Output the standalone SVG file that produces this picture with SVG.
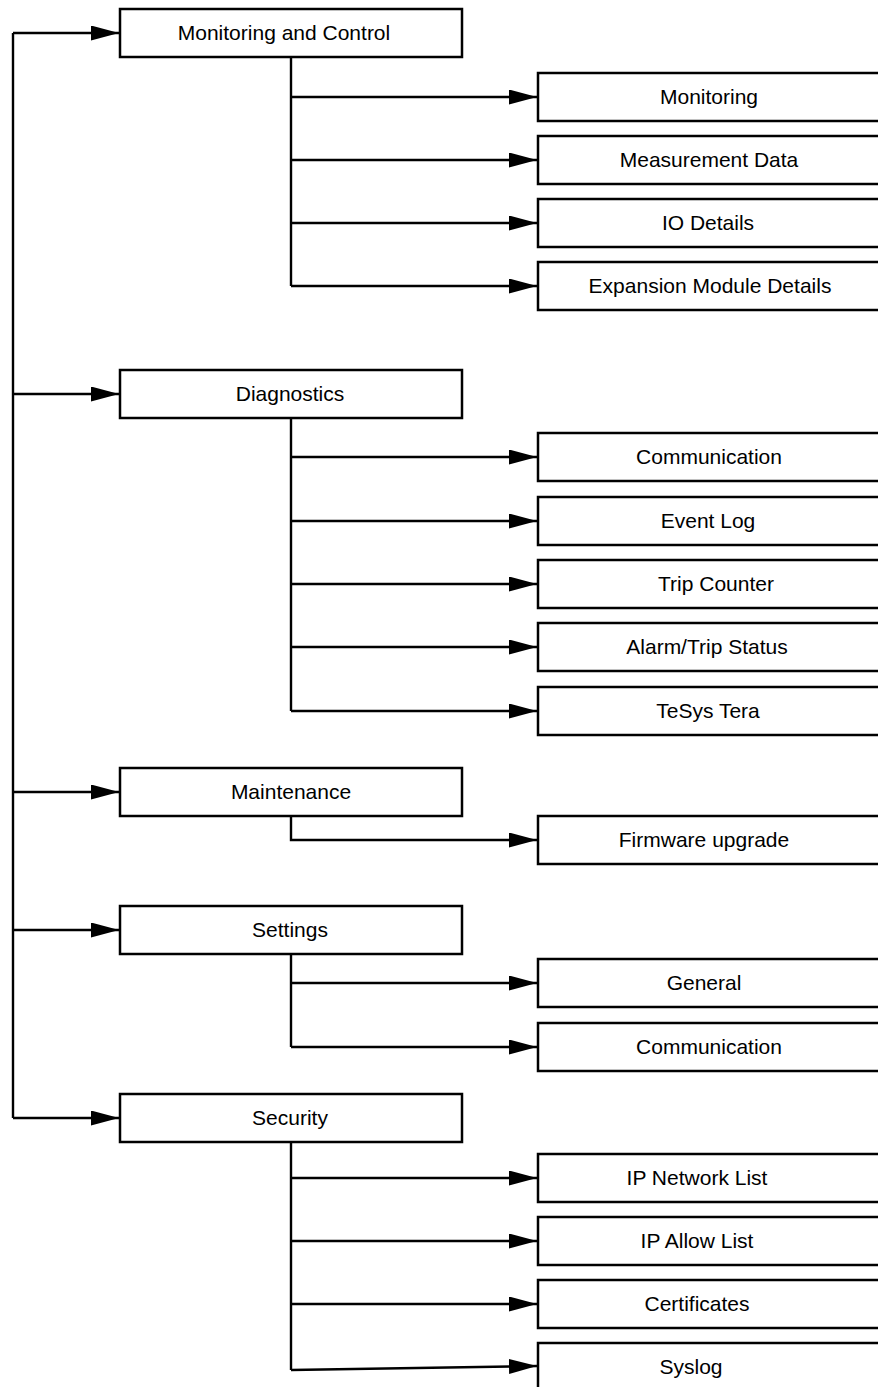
<svg xmlns="http://www.w3.org/2000/svg" width="878" height="1387" viewBox="0 0 878 1387">
<style>
.box{fill:#fff;stroke:#000;stroke-width:2.5}
.lbl{font-family:"Liberation Sans",Arial,sans-serif;font-size:21px;fill:#000;text-anchor:middle}
.ln{fill:none;stroke:#000;stroke-width:2.4}
</style>
<defs>
<marker id="ah" markerUnits="userSpaceOnUse" markerWidth="30" markerHeight="16" refX="28" refY="7.5" orient="auto">
<path d="M0,0 L28,7.5 L0,15 z" fill="#000"/>
</marker>
</defs>
<rect width="878" height="1387" fill="#fff"/>
<g id="connectors">
<path class="ln" d="M13,33 V1118"/>
<path class="ln" d="M13,33 H119" marker-end="url(#ah)"/>
<path class="ln" d="M13,394 H119" marker-end="url(#ah)"/>
<path class="ln" d="M13,792 H119" marker-end="url(#ah)"/>
<path class="ln" d="M13,930 H119" marker-end="url(#ah)"/>
<path class="ln" d="M13,1118 H119" marker-end="url(#ah)"/>
<path class="ln" d="M291,57 V286"/>
<path class="ln" d="M291,97 H537" marker-end="url(#ah)"/>
<path class="ln" d="M291,160 H537" marker-end="url(#ah)"/>
<path class="ln" d="M291,223 H537" marker-end="url(#ah)"/>
<path class="ln" d="M291,286 H537" marker-end="url(#ah)"/>
<path class="ln" d="M291,418 V711"/>
<path class="ln" d="M291,457 H537" marker-end="url(#ah)"/>
<path class="ln" d="M291,521 H537" marker-end="url(#ah)"/>
<path class="ln" d="M291,584 H537" marker-end="url(#ah)"/>
<path class="ln" d="M291,647 H537" marker-end="url(#ah)"/>
<path class="ln" d="M291,711 H537" marker-end="url(#ah)"/>
<path class="ln" d="M291,816 V840 H537" marker-end="url(#ah)"/>
<path class="ln" d="M291,954 V1047"/>
<path class="ln" d="M291,983 H537" marker-end="url(#ah)"/>
<path class="ln" d="M291,1047 H537" marker-end="url(#ah)"/>
<path class="ln" d="M291,1142 V1370"/>
<path class="ln" d="M291,1178 H537" marker-end="url(#ah)"/>
<path class="ln" d="M291,1241 H537" marker-end="url(#ah)"/>
<path class="ln" d="M291,1304 H537" marker-end="url(#ah)"/>
<path class="ln" d="M291,1370 L537,1366" marker-end="url(#ah)"/>
</g>
<g id="n-monitoring-control"><rect class="box" x="120" y="9" width="342" height="48"/><text class="lbl" x="284" y="40">Monitoring and Control</text></g>
<g id="n-monitoring"><rect class="box" x="538" y="73" width="345" height="48"/><text class="lbl" x="709" y="104">Monitoring</text></g>
<g id="n-measurement"><rect class="box" x="538" y="136" width="345" height="48"/><text class="lbl" x="709" y="167">Measurement Data</text></g>
<g id="n-io"><rect class="box" x="538" y="199" width="345" height="48"/><text class="lbl" x="708" y="230">IO Details</text></g>
<g id="n-expansion"><rect class="box" x="538" y="262" width="345" height="48"/><text class="lbl" x="710" y="293">Expansion Module Details</text></g>
<g id="n-diagnostics"><rect class="box" x="120" y="370" width="342" height="48"/><text class="lbl" x="290" y="401">Diagnostics</text></g>
<g id="n-communication1"><rect class="box" x="538" y="433" width="345" height="48"/><text class="lbl" x="709" y="464">Communication</text></g>
<g id="n-eventlog"><rect class="box" x="538" y="497" width="345" height="48"/><text class="lbl" x="708" y="528">Event Log</text></g>
<g id="n-tripcounter"><rect class="box" x="538" y="560" width="345" height="48"/><text class="lbl" x="716" y="591">Trip Counter</text></g>
<g id="n-alarm"><rect class="box" x="538" y="623" width="345" height="48"/><text class="lbl" x="707" y="654">Alarm/Trip Status</text></g>
<g id="n-tesys"><rect class="box" x="538" y="687" width="345" height="48"/><text class="lbl" x="708" y="718">TeSys Tera</text></g>
<g id="n-maintenance"><rect class="box" x="120" y="768" width="342" height="48"/><text class="lbl" x="291" y="799">Maintenance</text></g>
<g id="n-firmware"><rect class="box" x="538" y="816" width="345" height="48"/><text class="lbl" x="704" y="847">Firmware upgrade</text></g>
<g id="n-settings"><rect class="box" x="120" y="906" width="342" height="48"/><text class="lbl" x="290" y="937">Settings</text></g>
<g id="n-general"><rect class="box" x="538" y="959" width="345" height="48"/><text class="lbl" x="704" y="990">General</text></g>
<g id="n-communication2"><rect class="box" x="538" y="1023" width="345" height="48"/><text class="lbl" x="709" y="1054">Communication</text></g>
<g id="n-security"><rect class="box" x="120" y="1094" width="342" height="48"/><text class="lbl" x="290" y="1125">Security</text></g>
<g id="n-ipnetwork"><rect class="box" x="538" y="1154" width="345" height="48"/><text class="lbl" x="697" y="1185">IP Network List</text></g>
<g id="n-ipallow"><rect class="box" x="538" y="1217" width="345" height="48"/><text class="lbl" x="697" y="1248">IP Allow List</text></g>
<g id="n-certificates"><rect class="box" x="538" y="1280" width="345" height="48"/><text class="lbl" x="697" y="1311">Certificates</text></g>
<g id="n-syslog"><rect class="box" x="538" y="1343" width="345" height="48"/><text class="lbl" x="691" y="1374">Syslog</text></g>
</svg>
